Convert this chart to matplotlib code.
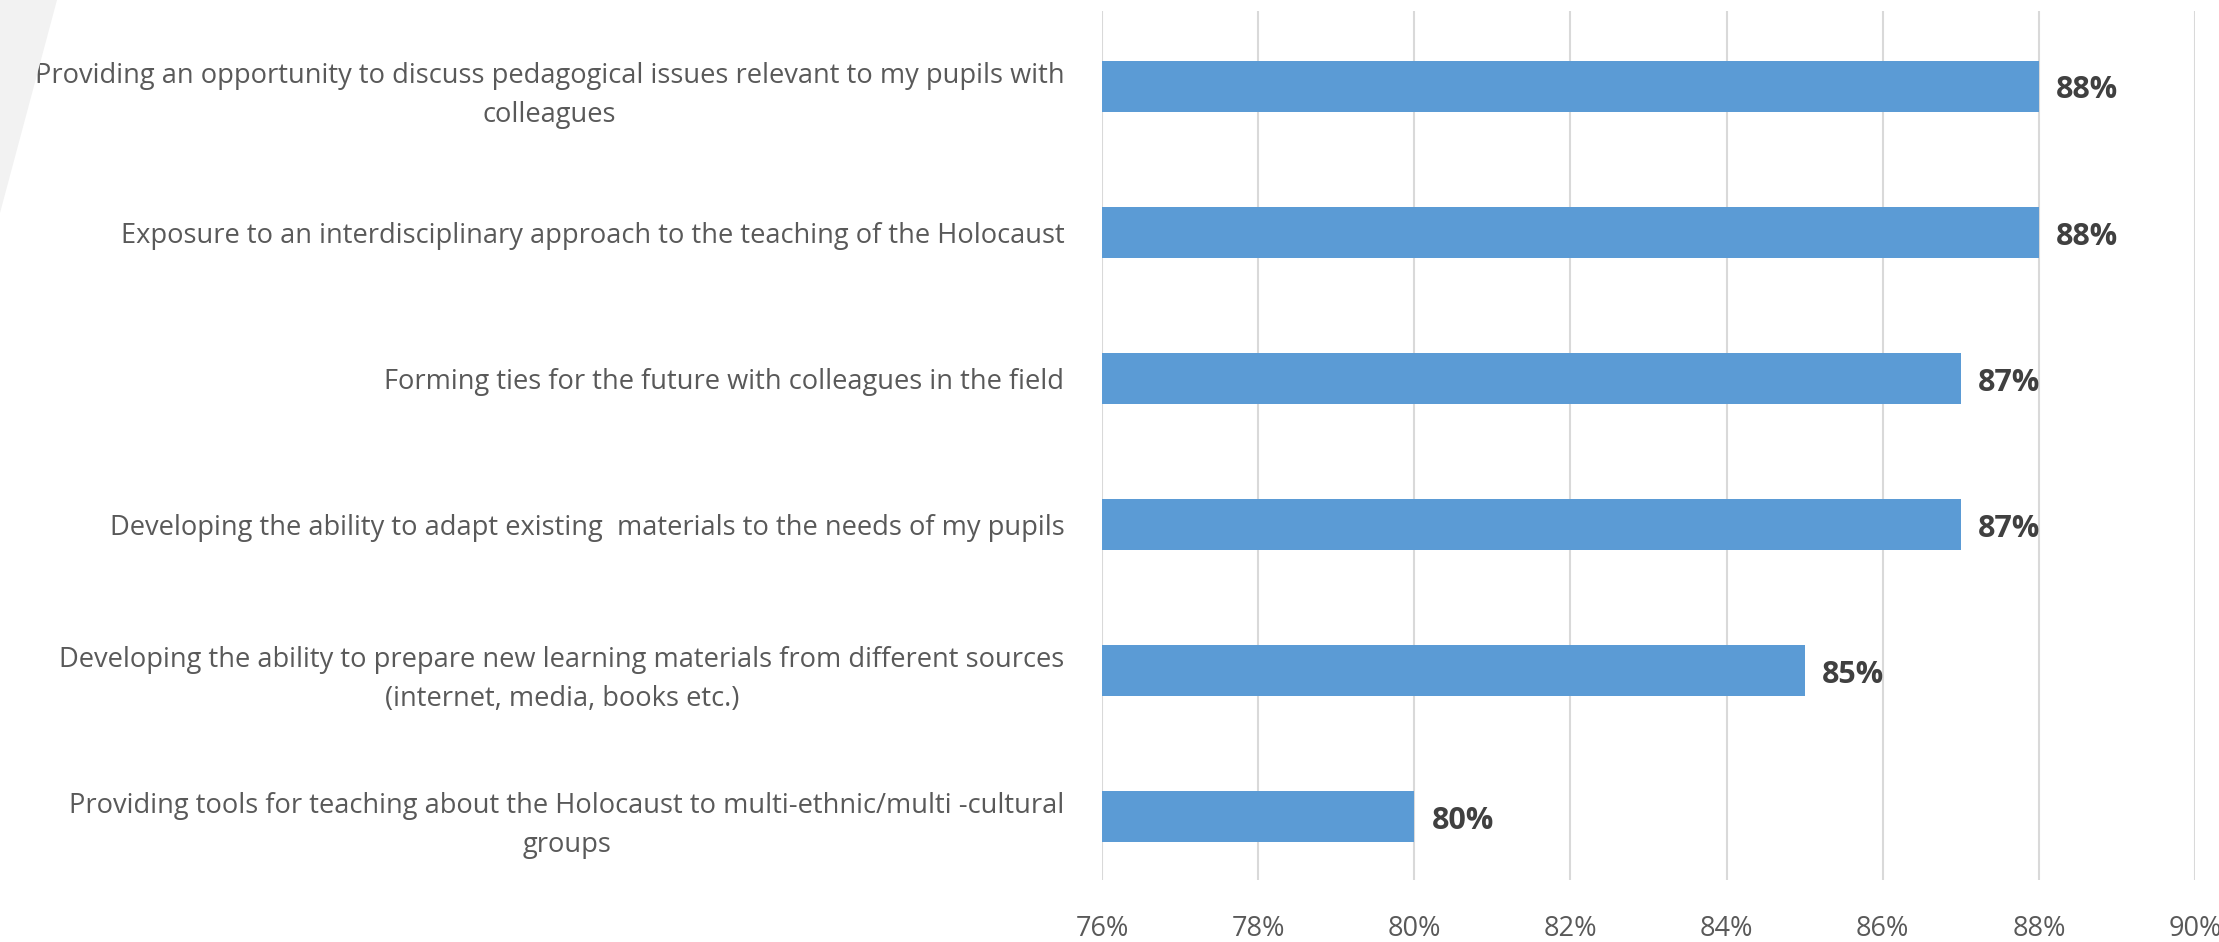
import matplotlib.pyplot as plt
from matplotlib.patches import Polygon
from matplotlib.ticker import FuncFormatter

# data, top to bottom as in the chart
labels = [
    "Providing an opportunity to discuss pedagogical issues relevant to my pupils with\ncolleagues",
    "Exposure to an interdisciplinary approach to the teaching of the Holocaust",
    "Forming ties for the future with colleagues in the field",
    "Developing the ability to adapt existing  materials to the needs of my pupils",
    "Developing the ability to prepare new learning materials from different sources\n(internet, media, books etc.)",
    "Providing tools for teaching about the Holocaust to multi-ethnic/multi -cultural\ngroups",
]
values = [88, 88, 87, 87, 85, 80]
x_ticks = [76, 78, 80, 82, 84, 86, 88, 90]

plt.rcParams['font.family'] = ['Open Sans', 'DejaVu Sans']

fig = plt.figure(figsize=(22.19, 9.42), dpi=100)
# light grey slanted shape in the top-left corner
fig.patches.append(Polygon([(0, 942), (57, 942), (0, 729)], closed=True,
                           transform=None, facecolor='#f2f2f2', edgecolor='none', zorder=0))

ax = fig.add_axes([0.4966, 0.0658, 0.4926, 0.9225])
y = list(range(len(labels)))[::-1]
ax.barh(y, [v - 76 for v in values], left=76, height=0.35, color='#5b9bd5', zorder=3)
for yy, v in zip(y, values):
    ax.text(v + 0.22, yy - 0.03, f"{v}%", va='center', ha='left', fontsize=22,
            fontweight='bold', color='#404040', zorder=4)

ax.set_xlim(76, 90)
ax.set_ylim(-0.436, 5.514)
ax.set_xticks(x_ticks)
ax.xaxis.set_major_formatter(FuncFormatter(lambda v, p: f"{v:.0f}%"))
ax.set_yticks(y)
ax.set_yticklabels(labels, multialignment='center', linespacing=1.55)
ax.tick_params(axis='y', length=0, pad=27, labelsize=19.6, labelcolor='#595959')
ax.tick_params(axis='x', length=0, pad=25, labelsize=19.5, labelcolor='#595959')
ax.grid(axis='x', color='#d9d9d9', linewidth=1.5, zorder=0)
for s in ax.spines.values():
    s.set_visible(False)

fig.savefig('out.png', dpi=100)
